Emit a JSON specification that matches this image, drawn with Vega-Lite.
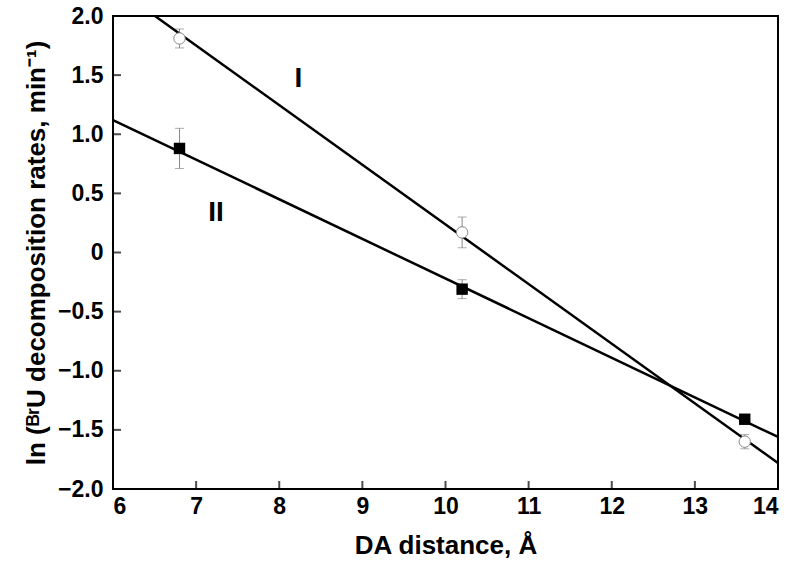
{
  "$schema": "https://vega.github.io/schema/vega-lite/v6.json",
  "width": 665,
  "height": 473,
  "autosize": {"type": "none"},
  "padding": {"left": 113, "top": 16, "right": 22, "bottom": 84},
  "background": "white",
  "config": {
    "view": {"stroke": "black", "strokeWidth": 2},
    "axis": {
      "grid": false,
      "domain": false,
      "ticks": false,
      "labelFont": "Liberation Sans",
      "labelFontWeight": "bold",
      "labelFontSize": 23,
      "labelColor": "black",
      "titleFont": "Liberation Sans",
      "titleFontWeight": "bold",
      "titleFontSize": 26,
      "titleColor": "black"
    }
  },
  "datasets": {
    "points": [
      {"series": "I", "x": 6.8, "y": 1.81, "lo": 1.73, "hi": 1.89},
      {"series": "I", "x": 10.2, "y": 0.17, "lo": 0.04, "hi": 0.30},
      {"series": "I", "x": 13.6, "y": -1.60, "lo": -1.66, "hi": -1.54},
      {"series": "II", "x": 6.8, "y": 0.88, "lo": 0.71, "hi": 1.05},
      {"series": "II", "x": 10.2, "y": -0.31, "lo": -0.39, "hi": -0.23},
      {"series": "II", "x": 13.6, "y": -1.41, "lo": -1.43, "hi": -1.39}
    ],
    "lines": [
      {"series": "I", "x": 6.505, "y": 2.0},
      {"series": "I", "x": 14, "y": -1.78},
      {"series": "II", "x": 6, "y": 1.12},
      {"series": "II", "x": 14, "y": -1.56}
    ],
    "labels": [
      {"label": "I", "x": 8.23, "y": 1.47},
      {"label": "II", "x": 7.24, "y": 0.33}
    ],
    "xticks": [{"v": 7}, {"v": 8}, {"v": 9}, {"v": 10}, {"v": 11}, {"v": 12}, {"v": 13}],
    "yticks": [{"v": -1.5}, {"v": -1}, {"v": -0.5}, {"v": 0}, {"v": 0.5}, {"v": 1}, {"v": 1.5}]
  },
  "layer": [
    {
      "data": {"name": "points"},
      "mark": {"type": "rule", "color": "#888888", "strokeWidth": 1},
      "encoding": {
        "x": {"field": "x", "type": "quantitative", "scale": {"domain": [6, 14], "nice": false},
          "axis": {"values": [6,7,8,9,10,11,12,13,14], "format": "d", "title": "DA distance, Å",
            "labelPadding": 6, "titlePadding": 14}},
        "y": {"field": "lo", "type": "quantitative", "scale": {"domain": [-2, 2], "nice": false},
          "axis": {"values": [-2,-1.5,-1,-0.5,0,0.5,1,1.5,2], "labelExpr": "datum.value == 0 ? '0' : format(datum.value, '.1f')",
            "title": "ln (ᴮʳU decomposition rates, min⁻¹)", "labelPadding": 10, "titlePadding": 8}},
        "y2": {"field": "hi"}
      }
    },
    {
      "data": {"name": "xticks"},
      "mark": {"type": "tick", "orient": "vertical", "color": "black", "thickness": 2, "size": 16, "clip": true},
      "encoding": {"x": {"field": "v", "type": "quantitative"}, "y": {"datum": -2, "type": "quantitative"}}
    },
    {
      "data": {"name": "yticks"},
      "mark": {"type": "tick", "orient": "horizontal", "color": "black", "thickness": 2, "size": 16, "clip": true},
      "encoding": {"y": {"field": "v", "type": "quantitative"}, "x": {"datum": 6, "type": "quantitative"}}
    },
    {
      "data": {"name": "points"},
      "mark": {"type": "tick", "orient": "horizontal", "color": "#888888", "thickness": 1, "size": 9},
      "encoding": {"x": {"field": "x", "type": "quantitative"}, "y": {"field": "lo", "type": "quantitative"}}
    },
    {
      "data": {"name": "points"},
      "mark": {"type": "tick", "orient": "horizontal", "color": "#888888", "thickness": 1, "size": 9},
      "encoding": {"x": {"field": "x", "type": "quantitative"}, "y": {"field": "hi", "type": "quantitative"}}
    },
    {
      "data": {"name": "lines"},
      "mark": {"type": "line", "color": "black", "strokeWidth": 2.5},
      "encoding": {
        "x": {"field": "x", "type": "quantitative"},
        "y": {"field": "y", "type": "quantitative"},
        "detail": {"field": "series"}
      }
    },
    {
      "data": {"name": "points"},
      "transform": [{"filter": "datum.series == 'I'"}],
      "mark": {"type": "point", "shape": "circle", "filled": true, "fill": "white", "stroke": "#888888", "strokeWidth": 1, "size": 130, "opacity": 1},
      "encoding": {"x": {"field": "x", "type": "quantitative"}, "y": {"field": "y", "type": "quantitative"}}
    },
    {
      "data": {"name": "points"},
      "transform": [{"filter": "datum.series == 'II'"}],
      "mark": {"type": "point", "shape": "square", "filled": true, "color": "black", "size": 130, "opacity": 1},
      "encoding": {"x": {"field": "x", "type": "quantitative"}, "y": {"field": "y", "type": "quantitative"}}
    },
    {
      "data": {"name": "labels"},
      "mark": {"type": "text", "font": "Liberation Sans", "fontWeight": "bold", "fontSize": 28, "color": "black"},
      "encoding": {"x": {"field": "x", "type": "quantitative"}, "y": {"field": "y", "type": "quantitative"}, "text": {"field": "label"}}
    }
  ]
}
